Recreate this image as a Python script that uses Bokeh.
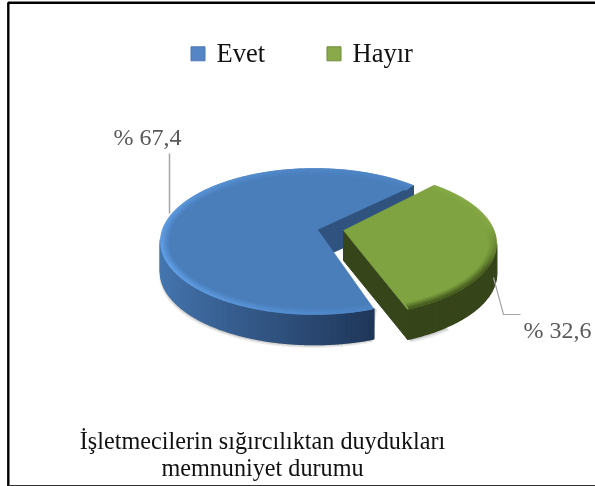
import numpy as np
from bokeh.plotting import figure
from bokeh.embed import file_html
from bokeh.resources import INLINE
from bokeh.core.properties import value

categories = ["Evet", "Hayır"]
shares = [67.4, 32.6]
share_labels = ["% 67,4", "% 32,6"]
title_lines = ["İşletmecilerin sığırcılıktan duydukları", "memnuniyet durumu"]

W, H = 595, 486
SERIF = value("Liberation Serif")
RY, DEPTH = 73, 30
BLUE_START, GREEN_START = 50.0, 53.0
BLUE_C, BLUE_APEX = (314, 241, 154), (317, 229)
GREEN_C, GREEN_APEX = (339, 243, 157), (343, 230)

p = figure(width=W, height=H, x_range=(0, W), y_range=(H, 0), output_backend="svg",
           toolbar_location=None, min_border=0, outline_line_color=None,
           background_fill_color="white", border_fill_color="white")
p.axis.visible = False
p.grid.visible = False
p.styles = {"position": "fixed", "left": "0px", "top": "0px"}


def mix(a, b, t):
    t = float(np.clip(t, 0, 1))
    ca = [int(a[i:i + 2], 16) for i in (1, 3, 5)]
    cb = [int(b[i:i + 2], 16) for i in (1, 3, 5)]
    return "#%02x%02x%02x" % tuple(round(x + (y - x) * t) for x, y in zip(ca, cb))


def pt(c, deg, dx=0.0, dy=0.0):
    r = np.radians(deg)
    return c[0] + (c[2] - dx) * np.cos(r), c[1] - (RY - dy) * np.sin(r)


def arc(c, a0, a1, n=160, dx=0.0, dy=0.0):
    a = np.linspace(a0, a1, n)
    return pt(c, a, dx, dy)


def side(c, a0, a1, colour, n=90):
    edges = np.linspace(a0, a1, n + 1)
    xs, ys, cols = [], [], []
    for i in range(n):
        ax, ay = arc(c, edges[i], edges[i + 1], 5)
        xs.append(list(ax) + list(ax[::-1]))
        ys.append(list(ay) + list((ay + DEPTH)[::-1]))
        cols.append(colour((edges[i] + edges[i + 1]) / 2))
    p.patches(xs, ys, fill_color=cols, line_color=cols, line_width=1.6)


def rim(c, a0, a1, colour, width=9, n=150):
    edges = np.linspace(a0, a1, n + 1)
    for k in range(width - 1, -1, -1):
        t = k / (width - 1)
        xs, ys, cols = [], [], []
        for i in range(n):
            ax, ay = arc(c, edges[i], edges[i + 1], 3, t * 8 + 0.5, t * 6 + 0.5)
            xs.append(list(ax))
            ys.append(list(ay))
            cols.append(colour((edges[i] + edges[i + 1]) / 2, t))
        p.multi_line(xs, ys, line_color=cols, line_width=1.6)


blue_sweep = 360 * shares[0] / sum(shares)
green_sweep = 360 * shares[1] / sum(shares)
blue_end = BLUE_START + blue_sweep
green_end = GREEN_START - green_sweep

# soft shadow under the two discs
for off, alpha in ((3.5, 0.10), (2.2, 0.16), (1.0, 0.25)):
    sx, sy = arc(BLUE_C, 175, blue_end)
    p.patch(list(sx - off * 0.4) + [sx[-1] + off], list(sy + DEPTH + off) + [sy[-1]],
            fill_color="#555555", fill_alpha=alpha, line_color=None)
    sx, sy = arc(GREEN_C, GREEN_START - 100, green_end)
    p.patch(list(sx + off) + [sx[-1]], list(sy + DEPTH + off) + [sy[-1]],
            fill_color="#555555", fill_alpha=alpha, line_color=None)

# Evet: sides
fx, fy = pt(BLUE_C, BLUE_START)
p.patch([BLUE_APEX[0], fx, fx, BLUE_APEX[0]],
        [BLUE_APEX[1], fy, fy + DEPTH, BLUE_APEX[1] + DEPTH],
        fill_color="#30527e", line_color="#30527e")
side(BLUE_C, 178, blue_end,
     lambda a: mix("#4779b4", "#1f3658", ((a - 178) / (blue_end - 178)) ** 1.4))

# Evet: top
bx, by = arc(BLUE_C, BLUE_START, blue_end)
p.patch([BLUE_APEX[0]] + list(bx), [BLUE_APEX[1]] + list(by),
        fill_color="#4a7ebb", line_color="#4a7ebb", line_width=0.5)


def blue_rim(a, t):
    front = np.clip((280 - a) / 80, 0, 1) * np.clip((a - 100) / 80, 0, 1)
    edge = mix("#4a7ebb", "#62a0e6", 0.25 + 0.75 * front)
    return mix(edge, "#4a7ebb", t)


rim(BLUE_C, BLUE_START + 0.6, blue_end - 0.6, blue_rim)

# Hayır: sides
gx, gy = pt(GREEN_C, green_end)
p.patch([GREEN_APEX[0], gx, gx, GREEN_APEX[0]],
        [GREEN_APEX[1], gy, gy + DEPTH, GREEN_APEX[1] + DEPTH],
        fill_color="#36451a", line_color="#36451a")
side(GREEN_C, green_end, 0, lambda a: "#36451a", n=40)

# Hayır: top
hx, hy = arc(GREEN_C, GREEN_START, green_end)
p.patch([GREEN_APEX[0]] + list(hx), [GREEN_APEX[1]] + list(hy),
        fill_color="#7fa341", line_color="#7fa341", line_width=0.5)


def green_rim(a, t):
    low = np.clip((15 - a) / 35, 0, 1)
    edge = mix("#86aa46", "#45591f", low)
    return mix(edge, "#7fa341", t)


rim(GREEN_C, GREEN_START - 0.6, green_end + 0.6, green_rim)

# leader lines
p.line([169, 169], [153, 213], line_color="#a6a6a6", line_width=1.5)
p.line([493, 503, 520], [277, 314, 314], line_color="#a6a6a6", line_width=1.2)

# share labels
p.text([113, 523], [136.5, 329.5], text=share_labels, text_font=SERIF, text_font_size="24px",
       text_color="#595959", text_align="left", text_baseline="middle")

# legend
p.rect([197.5, 333.5], [53.3, 53.3], width=14, height=14, fill_color=["#5585c5", "#8aa94a"],
       line_color=["#4a78b5", "#6f8a3a"], line_width=1)
p.text([216, 352], [52.5, 52.5], text=categories, text_font=SERIF, text_font_size="26.5px",
       text_color="#111111", text_align="left", text_baseline="middle")

# caption
p.text([262, 262], [440, 467], text=title_lines, text_font=SERIF, text_font_size="24.2px",
       text_color="#111111", text_align="center", text_baseline="middle")

# frame
p.line([W + 5, 7.8, 7.8], [2.3, 2.3, 486], line_color="#000000", line_width=2.4)
p.line([7.8, W + 5], [485.3, 485.3], line_color="#333333", line_width=1.6)

open("out.html", "w").write(file_html(p, INLINE))
